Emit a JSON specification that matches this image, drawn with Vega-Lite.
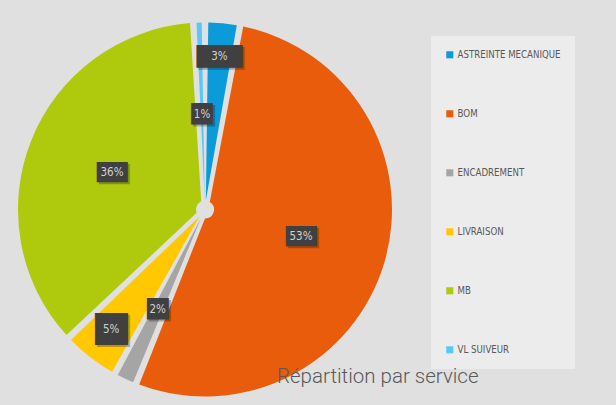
{
  "$schema": "https://vega.github.io/schema/vega-lite/v6.json",
  "width": 382,
  "height": 391,
  "autosize": {"type": "none"},
  "padding": {"left": 14, "top": 14, "right": 220, "bottom": 0},
  "background": "#e0e0e0",
  "config": {"view": {"stroke": null}},
  "title": {
    "text": "Répartition par service",
    "orient": "bottom",
    "anchor": "start",
    "frame": "group",
    "dx": 263,
    "offset": -38,
    "font": "Roboto, sans-serif",
    "fontSize": 20.5,
    "fontWeight": 300,
    "color": "#595959"
  },
  "data": {
    "values": [
      {"service": "ASTREINTE MECANIQUE", "pct": 0.03},
      {"service": "BOM", "pct": 0.53},
      {"service": "ENCADREMENT", "pct": 0.02},
      {"service": "LIVRAISON", "pct": 0.05},
      {"service": "MB", "pct": 0.36},
      {"service": "VL SUIVEUR", "pct": 0.01}
    ]
  },
  "encoding": {
    "theta": {"field": "pct", "type": "quantitative", "stack": true},
    "order": {"field": "service", "sort": "ascending"}
  },
  "layer": [
    {
      "mark": {"type": "arc", "outerRadius": 187, "innerRadius": 9, "padAngle": 0.035},
      "encoding": {
        "color": {
          "field": "service",
          "type": "nominal",
          "scale": {
            "domain": ["ASTREINTE MECANIQUE", "BOM", "ENCADREMENT", "LIVRAISON", "MB", "VL SUIVEUR"],
            "range": ["#0b9bd8", "#e85c0c", "#a5a5a5", "#ffc800", "#afc90c", "#56c9f7"]
          },
          "legend": {
            "title": null,
            "orient": "none",
            "legendX": 417,
            "legendY": 22,
            "symbolType": "square",
            "symbolSize": 50,
            "symbolStrokeWidth": 0,
            "labelFont": "DejaVu Sans Condensed, Roboto, sans-serif",
            "labelFontSize": 9.6,
            "labelColor": "#595959",
            "labelOffset": 3,
            "labelLimit": 200,
            "rowPadding": 48,
            "padding": 14,
            "fillColor": "#ececec"
          }
        }
      }
    },
    {
      "mark": {"type": "text", "font": "DejaVu Sans Mono", "color": "#000000", "opacity": 0.25, "dx": 2, "dy": 2, "align": "center", "baseline": "middle"},
      "encoding": {
        "radius": {"value": {"expr": "datum.pct == 0.01 ? 95 : datum.pct == 0.02 ? 111 : datum.pct >= 0.3 ? 100 : 153"}},
        "text": {"value": {"expr": "datum.pct == 0.03 ? '████' : datum.pct >= 0.3 ? '███' : '██'"}},
        "size": {"value": {"expr": "datum.pct == 0.05 ? 27 : datum.pct == 0.03 ? 19 : datum.pct >= 0.3 ? 17 : 18"}}
      }
    },
    {
      "mark": {"type": "text", "font": "DejaVu Sans Mono", "color": "#404040", "align": "center", "baseline": "middle"},
      "encoding": {
        "radius": {"value": {"expr": "datum.pct == 0.01 ? 95 : datum.pct == 0.02 ? 111 : datum.pct >= 0.3 ? 100 : 153"}},
        "text": {"value": {"expr": "datum.pct == 0.03 ? '████' : datum.pct >= 0.3 ? '███' : '██'"}},
        "size": {"value": {"expr": "datum.pct == 0.05 ? 27 : datum.pct == 0.03 ? 19 : datum.pct >= 0.3 ? 17 : 18"}}
      }
    },
    {
      "mark": {"type": "text", "font": "DejaVu Sans Condensed, Roboto, sans-serif", "fontSize": 11.5, "color": "#d2d2d2", "align": "center", "baseline": "middle"},
      "encoding": {
        "radius": {"value": {"expr": "datum.pct == 0.01 ? 95 : datum.pct == 0.02 ? 111 : datum.pct >= 0.3 ? 100 : 153"}},
        "text": {"field": "pct", "type": "quantitative", "format": ".0%"}
      }
    }
  ]
}
